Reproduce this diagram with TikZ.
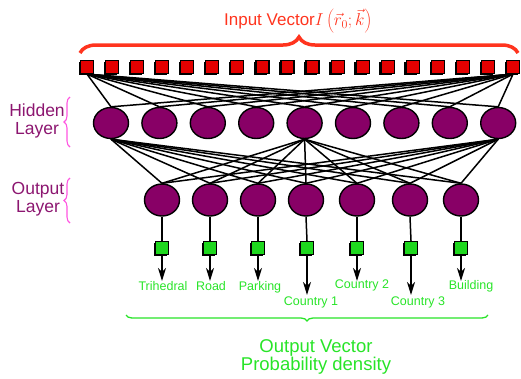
\documentclass[tikz,border=0pt]{standalone}
\usepackage{fontspec}
\setmainfont{Liberation Sans}
\usetikzlibrary{positioning, arrows.meta, shapes.geometric, decorations.pathreplacing, shadows}
\definecolor{inRed}{RGB}{228, 0, 0}
\definecolor{braceRed}{RGB}{255, 52, 30}
\definecolor{nodePurple}{RGB}{136, 0, 102}
\definecolor{textPurple}{RGB}{140, 22, 112}
\definecolor{bracePink}{RGB}{255, 85, 225}
\definecolor{outGreen}{RGB}{40, 228, 40}
\definecolor{boxGreen}{RGB}{30, 215, 30}

\begin{document}
\begin{tikzpicture}[
    x=1pt, y=-1pt,
    inbox/.style={rectangle, draw=black, line width=1.2pt, fill=inRed,
                  minimum size=13pt, inner sep=0pt,
                  general shadow={fill=black, shadow xshift=-1.8pt, shadow yshift=-1.8pt}},
    outbox/.style={inbox, fill=boxGreen},
    neuron/.style={ellipse, draw=black, line width=1.4pt, fill=nodePurple,
                   minimum width=35pt, minimum height=31pt, inner sep=0pt},
    link/.style={line width=1.5pt},
    signal/.style={-{Stealth[length=13pt, width=8pt, inset=4pt]}, line width=1.6pt},
    laytext/.style={text=textPurple, align=center, font=\fontsize{17.5}{18.5}\selectfont},
    laybrace/.style={draw=bracePink, line width=1.1pt,
                     decorate, decoration={brace, amplitude=6pt}},
    classtext/.style={text=outGreen, font=\fontsize{12.5}{14}\selectfont},
  ]
    \useasboundingbox (0,0) rectangle (521,378);

    % input vector
    \foreach \i in {1,...,18}
      \node[inbox] (in\i) at ({87+25.06*(\i-1)}, 67) {};
    \draw[braceRed, line width=3.5pt, decorate,
          decoration={brace, amplitude=16pt}] (80,53) -- (518,53);
    \node[text=braceRed, font=\fontsize{17}{19}\selectfont, inner sep=1pt] (inlabel) at (298,21)
      {Input Vector$I\left(\vec{r}_0;\vec{k}\right)$};

    % hidden layer
    \foreach \j in {1,...,9}
      \node[neuron] (h\j) at ({111+48.4*(\j-1)}, 123) {};
    \node[laytext] (hlabel) at (37,121) {Hidden\\Layer};
    \draw[laybrace] (70,147) -- (70,97);

    % output layer
    \foreach \k/\x in {1/162, 2/210, 3/258, 4/306, 5/357, 6/410, 7/461}
      \node[neuron, minimum height=32pt] (o\k) at (\x, 200) {};
    \node[laytext] (olabel) at (38,199) {Output\\Layer};
    \draw[laybrace] (70,223) -- (70,178);

    % connections
    \foreach \j in {1,...,9} {
      \draw[link] (in1.south) -- (h\j.north);
      \draw[link] (in18.south) -- (h\j.north);
    }
    \foreach \j in {1,5,9}
      \foreach \k in {1,...,7}
        \draw[link] (h\j.south) -- (o\k.north);

    % output vector
    \foreach \k/\x/\e in {1/162/281, 2/210/281, 3/258/281, 4/307/295,
                          5/357/281, 6/411/295, 7/461/281} {
      \node[outbox] (g\k) at (\x, 248) {};
      \coordinate (e\k) at (\x, \e);
      \draw[link] (o\k.south) -- (g\k.north);
      \draw[signal] (g\k.south) -- (e\k);
    }
    \node[classtext] (c1) at (163,286) {Trihedral};
    \node[classtext] (c2) at (211,286) {Road};
    \node[classtext] (c3) at (260,287) {Parking};
    \node[classtext] (c4) at (311,302) {Country 1};
    \node[classtext] (c5) at (362,285) {Country 2};
    \node[classtext] (c6) at (418,302) {Country 3};
    \node[classtext] (c7) at (471,286) {Building};

    \draw[outGreen, line width=1.3pt, decorate,
          decoration={brace, amplitude=6pt}] (488,315) -- (126,315);
    \node[text=outGreen, align=center, font=\fontsize{18.5}{18}\selectfont]
      (outlabel) at (316,357) {Output Vector\\Probability density};
  \end{tikzpicture}
\end{document}
